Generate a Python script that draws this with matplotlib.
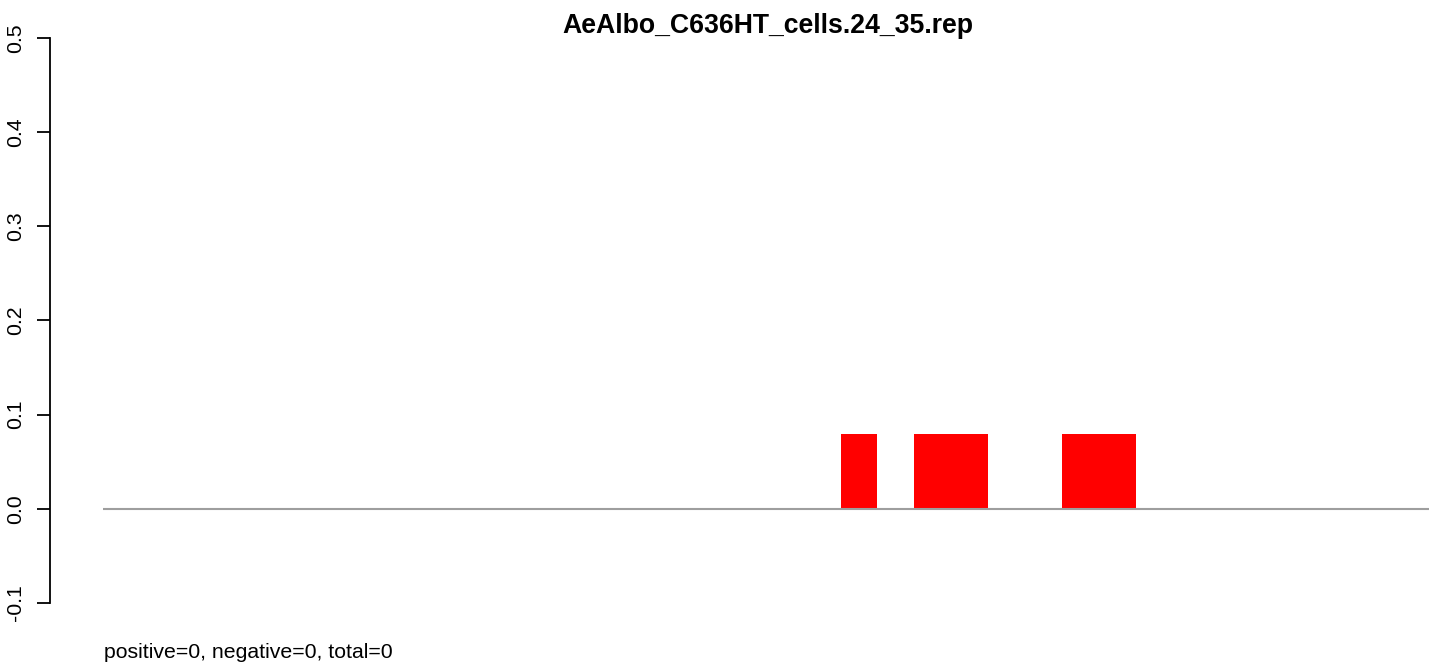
import numpy as np
import matplotlib
matplotlib.use("Agg")
import matplotlib.pyplot as plt

# read-length slots and the fraction plotted for each (only a few are non-zero)
positions = list(range(36))
values = [0.0] * 36
for i in (20, 22, 23, 26, 27):
    values[i] = 0.08

title = "AeAlbo_C636HT_cells.24_35.rep"
footer = "positive=0, negative=0, total=0"
yticks = [-0.1, 0.0, 0.1, 0.2, 0.3, 0.4, 0.5]

W, H = 1429, 664
fig = plt.figure(figsize=(W / 100, H / 100), dpi=100)
plt.rcParams['font.family'] = ['Liberation Sans', 'DejaVu Sans']

# axes box in pixel coordinates: left spine at x=50, y from 38 (0.5) to 603 (-0.1)
left, right, top, bottom = 50, 1429, 38, 603
ax = fig.add_axes([left / W, 1 - bottom / H, (right - left) / W, (bottom - top) / H])

slot = 36.88
ax.set_xlim(-(103 - left) / slot, (right - 103) / slot)
ax.set_ylim(-0.1, 0.5)

ax.bar(positions, values, width=1.0, align='edge', color='#ff0000', linewidth=0)
ax.plot([0, 36], [0, 0], color='#9e9e9e', lw=1.5, solid_capstyle='butt', zorder=3)

for s in ('top', 'right', 'bottom'):
    ax.spines[s].set_visible(False)
ax.spines['left'].set_linewidth(1.3)
ax.set_xticks([])
ax.set_yticks(yticks)
ax.set_yticklabels([f"{v:.1f}" for v in yticks],
                   rotation=90, va='center', fontsize=15.3)
ax.tick_params(axis='y', length=9.5, width=1.3, pad=8.5)

fig.text(768 / W, 1 - 26 / H, title, ha='center', va='center',
         fontsize=19.2, fontweight='bold')
fig.text(104 / W, 1 - 652 / H, footer, ha='left', va='center', fontsize=15.3)

fig.savefig("out.png", dpi=100)
